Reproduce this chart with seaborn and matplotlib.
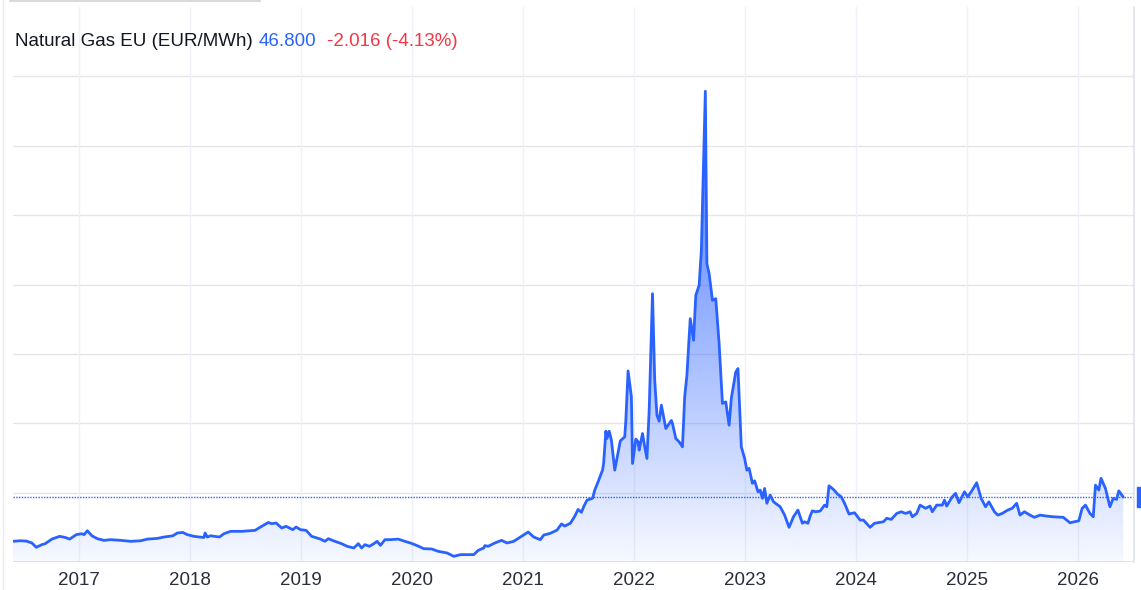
import matplotlib.pyplot as plt
import numpy as np
import pandas as pd
import seaborn as sns
from matplotlib.colors import LinearSegmentedColormap
from matplotlib.lines import Line2D
from matplotlib.patches import Rectangle

# Weekly TTF closes (decimal year, EUR/MWh)
years = [
    2016.41, 2016.47, 2016.53, 2016.58, 2016.62, 2016.67, 2016.70, 2016.76, 2016.83, 2016.88,
    2016.92, 2016.98, 2017.03, 2017.05, 2017.08, 2017.12, 2017.17, 2017.23, 2017.29, 2017.38,
    2017.47, 2017.56, 2017.62, 2017.71, 2017.77, 2017.85, 2017.89, 2017.94, 2017.98, 2018.04,
    2018.09, 2018.13, 2018.14, 2018.16, 2018.19, 2018.27, 2018.31, 2018.37, 2018.47, 2018.54,
    2018.59, 2018.65, 2018.71, 2018.74, 2018.78, 2018.83, 2018.87, 2018.93, 2018.96, 2019.00,
    2019.05, 2019.10, 2019.18, 2019.22, 2019.25, 2019.31, 2019.37, 2019.42, 2019.48, 2019.52,
    2019.55, 2019.58, 2019.62, 2019.66, 2019.69, 2019.72, 2019.76, 2019.81, 2019.88, 2019.94,
    2019.99, 2020.05, 2020.11, 2020.18, 2020.24, 2020.32, 2020.38, 2020.44, 2020.51, 2020.56,
    2020.60, 2020.65, 2020.66, 2020.69, 2020.75, 2020.81, 2020.86, 2020.92, 2020.98, 2021.05,
    2021.10, 2021.16, 2021.19, 2021.25, 2021.31, 2021.35, 2021.38, 2021.43, 2021.47, 2021.50,
    2021.53, 2021.55, 2021.58, 2021.63, 2021.65, 2021.68, 2021.72, 2021.73, 2021.75, 2021.76,
    2021.78, 2021.80, 2021.83, 2021.85, 2021.88, 2021.92, 2021.93, 2021.95, 2021.98, 2021.99,
    2022.02, 2022.04, 2022.05, 2022.08, 2022.10, 2022.12, 2022.14, 2022.17, 2022.19, 2022.21,
    2022.23, 2022.25, 2022.29, 2022.34, 2022.35, 2022.38, 2022.41, 2022.44, 2022.46, 2022.48,
    2022.51, 2022.54, 2022.56, 2022.59, 2022.61, 2022.646, 2022.66, 2022.68, 2022.71, 2022.74,
    2022.77, 2022.80, 2022.83, 2022.86, 2022.88, 2022.92, 2022.94, 2022.97, 2023.00, 2023.02,
    2023.04, 2023.07, 2023.09, 2023.12, 2023.14, 2023.16, 2023.18, 2023.20, 2023.23, 2023.26,
    2023.32, 2023.36, 2023.40, 2023.44, 2023.46, 2023.48, 2023.50, 2023.52, 2023.54, 2023.57,
    2023.59, 2023.61, 2023.64, 2023.68, 2023.72, 2023.74, 2023.76, 2023.80, 2023.84, 2023.87,
    2023.90, 2023.94, 2023.99, 2024.04, 2024.07, 2024.13, 2024.17, 2024.25, 2024.28, 2024.32,
    2024.37, 2024.41, 2024.45, 2024.49, 2024.51, 2024.55, 2024.58, 2024.63, 2024.67, 2024.69,
    2024.73, 2024.78, 2024.80, 2024.82, 2024.87, 2024.90, 2024.93, 2024.98, 2025.01, 2025.05,
    2025.09, 2025.13, 2025.17, 2025.20, 2025.25, 2025.28, 2025.32, 2025.37, 2025.41, 2025.45,
    2025.48, 2025.52, 2025.57, 2025.61, 2025.66, 2025.72, 2025.78, 2025.87, 2025.93, 2026.01,
    2026.04, 2026.07, 2026.11, 2026.14, 2026.16, 2026.19, 2026.21, 2026.25, 2026.29, 2026.32,
    2026.35, 2026.37, 2026.41,
]
prices = [
    14.9, 15.3, 15.1, 13.7, 10.6, 12.5, 13.2, 16.5, 18.5, 17.7,
    16.5, 19.7, 20.4, 19.7, 22.5, 18.9, 16.8, 15.6, 16.1, 15.6,
    14.9, 15.3, 16.5, 17.0, 18.0, 18.9, 20.9, 21.3, 19.7, 18.5,
    18.0, 17.7, 20.9, 18.0, 18.9, 18.0, 20.4, 22.1, 22.1, 22.5,
    22.8, 25.7, 28.5, 27.6, 28.1, 24.5, 25.7, 23.3, 25.2, 23.3,
    22.8, 18.5, 16.5, 14.9, 16.8, 14.9, 13.2, 11.3, 10.1, 13.2,
    10.1, 12.5, 11.3, 13.2, 14.9, 12.0, 16.1, 16.1, 16.5, 14.9,
    13.7, 11.8, 9.6, 9.4, 7.7, 6.5, 4.1, 5.3, 5.3, 5.3,
    8.4, 10.1, 11.8, 11.3, 13.7, 15.6, 13.7, 14.9, 18.0, 21.6,
    18.0, 16.1, 19.4, 20.7, 23.0, 27.4, 25.9, 27.9, 33.0, 37.9,
    35.8, 39.8, 44.6, 45.9, 51.8, 57.8, 66.2, 71.1, 94.3, 89.0,
    94.3, 87.8, 66.2, 74.6, 87.3, 90.2, 102.0, 137.7, 119.0, 71.0,
    88.6, 86.6, 80.6, 92.6, 83.0, 74.6, 109.0, 193.4, 131.0, 105.8,
    101.5, 113.0, 96.2, 102.0, 99.8, 89.0, 86.6, 83.0, 119.0, 134.6,
    175.4, 159.8, 192.2, 199.4, 224.6, 339.3, 215.0, 207.8, 188.6, 189.8,
    157.5, 114.3, 115.4, 98.6, 117.9, 137.0, 139.4, 83.0, 74.6, 66.2,
    67.5, 56.7, 58.5, 50.6, 51.8, 45.9, 53.0, 42.3, 48.2, 43.4,
    39.8, 33.8, 25.0, 32.6, 35.0, 37.4, 32.6, 27.9, 29.0, 27.9,
    33.1, 36.9, 36.2, 36.7, 41.0, 39.8, 54.9, 52.3, 48.7, 47.0,
    42.3, 34.6, 35.5, 30.2, 30.2, 25.0, 27.9, 29.0, 31.5, 30.7,
    35.0, 36.2, 35.0, 36.2, 32.6, 35.0, 41.0, 38.7, 40.3, 36.2,
    41.0, 41.0, 44.6, 40.3, 47.0, 49.5, 42.7, 50.6, 47.0, 51.8,
    57.1, 45.9, 39.8, 43.4, 36.2, 33.8, 35.0, 37.4, 38.7, 42.3,
    33.8, 36.2, 33.8, 32.2, 33.8, 33.1, 32.6, 32.2, 28.3, 29.7,
    38.7, 41.0, 35.0, 32.6, 55.4, 51.8, 60.3, 53.0, 39.8, 45.9,
    45.1, 51.3, 46.8,
]
tick_years = [2017, 2018, 2019, 2020, 2021, 2022, 2023, 2024, 2025, 2026]
last_price = 46.8
title = "Natural Gas EU (EUR/MWh)"
last_text = "46.800"
change_text = "-2.016 (-4.13%)"

BLUE = "#2962ff"
RED = "#f23645"
DARK = "#131722"

df = pd.DataFrame({"year": years, "price": prices})

sns.set_style("white")
plt.rcParams["font.family"] = ["Liberation Sans", "DejaVu Sans"]

fig = plt.figure(figsize=(11.41, 5.90), dpi=100)
ax = fig.add_axes([13 / 1141, 28 / 590, 1121 / 1141, 555 / 590])

xmin, xmax = 2016.41, 2026.507
ax.set_xlim(xmin, xmax)
ax.set_ylim(0, 400)

# gradient area under the line
area = ax.fill_between(df["year"], df["price"], 0, color="none", lw=0)
cmap = LinearSegmentedColormap.from_list(
    "fade", [(0.16, 0.38, 1.0, 0.04), (0.16, 0.38, 1.0, 0.9)])
grad = np.linspace(0, 1, 256).reshape(-1, 1)
im = ax.imshow(grad, extent=[xmin, xmax, 0, max(prices)], origin="lower",
               aspect="auto", cmap=cmap, zorder=1, interpolation="bicubic")
im.set_clip_path(area.get_paths()[0], transform=ax.transData)
ax.set_xlim(xmin, xmax)
ax.set_ylim(0, 400)

sns.lineplot(data=df, x="year", y="price", ax=ax, color=BLUE, lw=2.0, zorder=3)

# grid
for y in range(50, 400, 50):
    ax.axhline(y, color="#e6e6e6", lw=1.0, zorder=0)
for yr in tick_years:
    ax.axvline(yr, color="#eef2f8", lw=1.0, zorder=0)
ax.axhline(0, color="#dcdcdc", lw=1.2, zorder=2)

# last price dotted line + tag stub on the right edge
ax.axhline(last_price, color=BLUE, lw=1.0, ls=(0, (1, 1)), zorder=2)
ax.add_patch(Rectangle((1.0027, last_price - 7.5), 0.006, 15,
                       transform=ax.get_yaxis_transform(), color=BLUE,
                       clip_on=False, zorder=4))

ax.set_xticks(tick_years)
ax.set_xticklabels([str(y) for y in tick_years], fontsize=13.5, color="#2a2e39")
ax.set_yticks([])
ax.set_xlabel("")
ax.set_ylabel("")
ax.tick_params(axis="x", length=0, pad=7)
for side in ["top", "left", "bottom"]:
    ax.spines[side].set_visible(False)
ax.spines["right"].set_color("#e0e3eb")
ax.spines["right"].set_linewidth(1.2)

# header text
t1 = fig.text(15 / 1141, 1 - 42 / 590, title, fontsize=13.5, color=DARK, va="center")
t2 = ax.annotate(last_text, xy=(1, 0.5), xycoords=t1, xytext=(4, 0),
                 textcoords="offset points", fontsize=13.5, color=BLUE,
                 va="center", annotation_clip=False)
ax.annotate(change_text, xy=(1, 0.5), xycoords=t2, xytext=(8, 0),
            textcoords="offset points", fontsize=13.5, color=RED,
            va="center", annotation_clip=False)

# frame bits of the page
fig.add_artist(Line2D([10 / 1141, 260 / 1141], [1 - 1 / 590, 1 - 1 / 590],
                      color="#dadada", lw=1.5))
fig.add_artist(Line2D([3 / 1141, 3 / 1141], [0, 1], color="#ececec", lw=1.0))

fig.savefig("out.png", dpi=100)
plt.close(fig)
